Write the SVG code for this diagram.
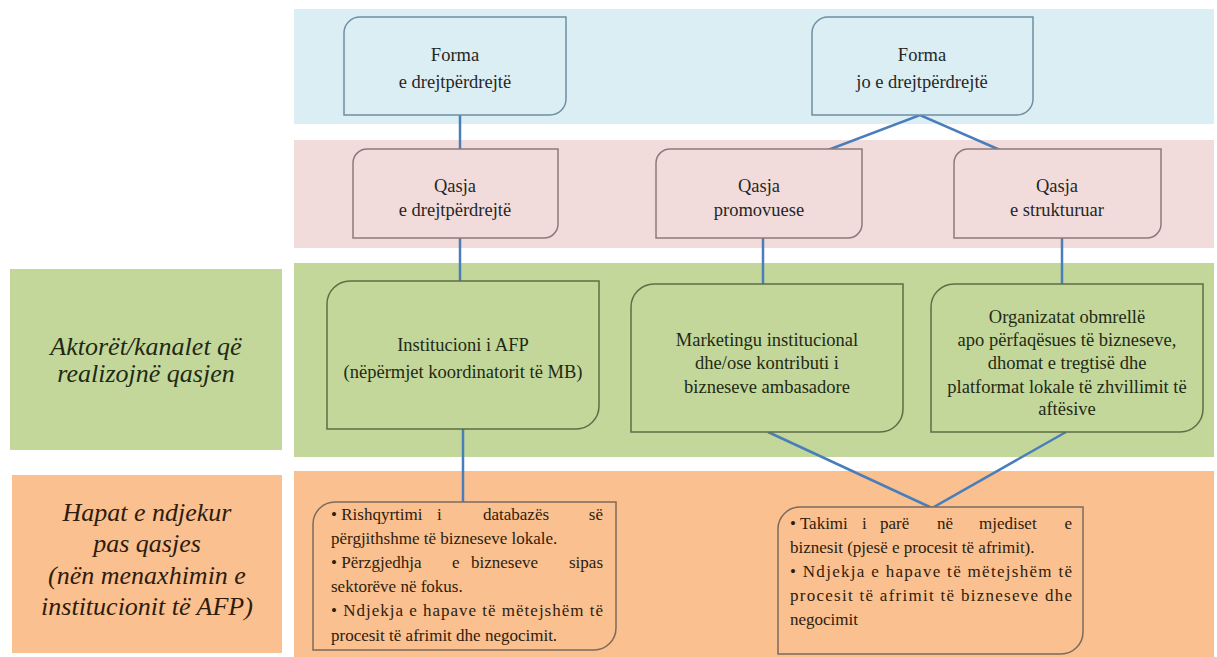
<svg xmlns="http://www.w3.org/2000/svg" width="1217" height="657" viewBox="0 0 1217 657">
<style>
text{font-family:'Liberation Serif','Times New Roman',Tinos,'DejaVu Serif',serif}
.t{font-size:18.5px;text-anchor:middle}
.b{font-size:17px;fill:#2e1c0e}
.e{text-anchor:end}
.lab{font-size:26px;font-style:italic;text-anchor:middle}
.nb{fill:#dbeef4;stroke:#6f8fa3;stroke-width:1.5}
.np{fill:#f2dcdb;stroke:#8c7a7a;stroke-width:1.5}
.ng{fill:#c4d79b;stroke:#5c6e45;stroke-width:1.5}
.no{fill:#fac08f;stroke:#7d6a5c;stroke-width:1.5}
.c{stroke:#4a7ebb;stroke-width:2.5;fill:none}
</style>
<rect width="1217" height="657" fill="#ffffff"/>
<g id="bands">
<rect x="294" y="9" width="920" height="115" fill="#dbeef4"/>
<rect x="294" y="140" width="920" height="108" fill="#f2dcdb"/>
<rect x="294" y="263" width="920" height="194" fill="#c4d79b"/>
<rect x="294" y="471" width="920" height="186" fill="#fac08f"/>
</g>
<g id="label-aktoret">
<rect x="10" y="269" width="272" height="181" fill="#c4d79b"/>
<text class="lab" x="146" y="355" fill="#1e2a14">Aktorët/kanalet që</text>
<text class="lab" x="146" y="382" fill="#1e2a14">realizojnë qasjen</text>
</g>
<g id="label-hapat">
<rect x="12" y="475" width="270" height="178" fill="#fac08f"/>
<text class="lab" x="147" y="521" fill="#2e1c0e">Hapat e ndjekur</text>
<text class="lab" x="147" y="552" fill="#2e1c0e">pas qasjes</text>
<text class="lab" x="147" y="584" fill="#2e1c0e">(nën menaxhimin e</text>
<text class="lab" x="147" y="615" fill="#2e1c0e">institucionit të AFP)</text>
</g>
<g id="connectors">
<line class="c" x1="460" y1="115" x2="460" y2="149"/>
<polyline class="c" points="828,150 920,115 1000,150"/>
<line class="c" x1="460" y1="238" x2="460" y2="281"/>
<line class="c" x1="763" y1="238" x2="763" y2="284"/>
<line class="c" x1="1062" y1="238" x2="1062" y2="284"/>
<line class="c" x1="463" y1="429" x2="463" y2="502"/>
<polyline class="c" points="768,432 932,508 1066,432"/>
</g>
<g id="forma-drejt">
<path class="nb" d="M360,17 H566 V99 A16,16 0 0 1 550,115 H344 V33 A16,16 0 0 1 360,17 Z"/>
<text class="t" x="455" y="61" fill="#262626">Forma</text>
<text class="t" x="455" y="88" fill="#262626">e drejtpërdrejtë</text>
</g>
<g id="forma-jo">
<path class="nb" d="M828,17 H1033 V99 A16,16 0 0 1 1017,115 H812 V33 A16,16 0 0 1 828,17 Z"/>
<text class="t" x="922" y="61" fill="#262626">Forma</text>
<text class="t" x="922" y="88" fill="#262626">jo e drejtpërdrejtë</text>
</g>
<g id="qasja-drejt">
<path class="np" d="M367,149 H558 V224 A14,14 0 0 1 544,238 H353 V163 A14,14 0 0 1 367,149 Z"/>
<text class="t" x="455" y="192" fill="#262626">Qasja</text>
<text class="t" x="455" y="216" fill="#262626">e drejtpërdrejtë</text>
</g>
<g id="qasja-promovuese">
<path class="np" d="M670,149 H862 V224 A14,14 0 0 1 848,238 H656 V163 A14,14 0 0 1 670,149 Z"/>
<text class="t" x="759" y="192" fill="#262626">Qasja</text>
<text class="t" x="759" y="216" fill="#262626">promovuese</text>
</g>
<g id="qasja-strukturuar">
<path class="np" d="M968,149 H1161 V224 A14,14 0 0 1 1147,238 H954 V163 A14,14 0 0 1 968,149 Z"/>
<text class="t" x="1057" y="192" fill="#262626">Qasja</text>
<text class="t" x="1057" y="216" fill="#262626">e strukturuar</text>
</g>
<g id="institucioni">
<path class="ng" d="M350,281 H599 V406 A23,23 0 0 1 576,429 H327 V304 A23,23 0 0 1 350,281 Z"/>
<text class="t" x="463" y="351" fill="#1e2a14">Institucioni i AFP</text>
<text class="t" x="463" y="378" fill="#1e2a14">(nëpërmjet koordinatorit të MB)</text>
</g>
<g id="marketingu">
<path class="ng" d="M654,284 H903 V409 A23,23 0 0 1 880,432 H631 V307 A23,23 0 0 1 654,284 Z"/>
<text class="t" x="767" y="346" fill="#1e2a14">Marketingu institucional</text>
<text class="t" x="767" y="369" fill="#1e2a14">dhe/ose kontributi i</text>
<text class="t" x="767" y="393" fill="#1e2a14">bizneseve ambasadore</text>
</g>
<g id="organizatat">
<path class="ng" d="M954,284 H1203 V409 A23,23 0 0 1 1180,432 H931 V307 A23,23 0 0 1 954,284 Z"/>
<text class="t" x="1067" y="323" fill="#1e2a14">Organizatat obmrellë</text>
<text class="t" x="1067" y="346" fill="#1e2a14">apo përfaqësues të bizneseve,</text>
<text class="t" x="1067" y="369" fill="#1e2a14">dhomat e tregtisë dhe</text>
<text class="t" x="1067" y="393" fill="#1e2a14">platformat lokale të zhvillimit të</text>
<text class="t" x="1067" y="415" fill="#1e2a14">aftësive</text>
</g>
<g id="hapat-afp">
<path class="no" d="M335,502 H616 V628 A22,22 0 0 1 594,650 H313 V524 A22,22 0 0 1 335,502 Z"/>
<text class="b" y="520"><tspan x="331">• Rishqyrtimi</tspan><tspan x="437">i</tspan><tspan x="483">databazës</tspan></text>
<text class="b e" x="603" y="520">së</text>
<text class="b" x="331" y="544">përgjithshme të bizneseve lokale.</text>
<text class="b" y="568"><tspan x="331">• Përzgjedhja</tspan><tspan x="452">e</tspan><tspan x="471">bizneseve</tspan></text>
<text class="b e" x="603" y="568">sipas</text>
<text class="b" x="331" y="592">sektorëve në fokus.</text>
<text class="b" x="331" y="616" textLength="272" lengthAdjust="spacing">• Ndjekja e hapave të mëtejshëm të</text>
<text class="b" x="331" y="641">procesit të afrimit dhe negocimit.</text>
</g>
<g id="hapat-takimi">
<path class="no" d="M800,507 H1083 V632 A22,22 0 0 1 1061,654 H778 V529 A22,22 0 0 1 800,507 Z"/>
<text class="b" y="529"><tspan x="790">• Takimi</tspan><tspan x="862">i</tspan><tspan x="880">parë</tspan><tspan x="937">në</tspan><tspan x="979">mjediset</tspan></text>
<text class="b e" x="1072" y="529">e</text>
<text class="b" x="790" y="553">biznesit (pjesë e procesit të afrimit).</text>
<text class="b" x="790" y="577" textLength="282" lengthAdjust="spacing">• Ndjekja e hapave të mëtejshëm të</text>
<text class="b" x="790" y="601" textLength="282" lengthAdjust="spacing">procesit të afrimit të bizneseve dhe</text>
<text class="b" x="790" y="625">negocimit</text>
</g>
</svg>
